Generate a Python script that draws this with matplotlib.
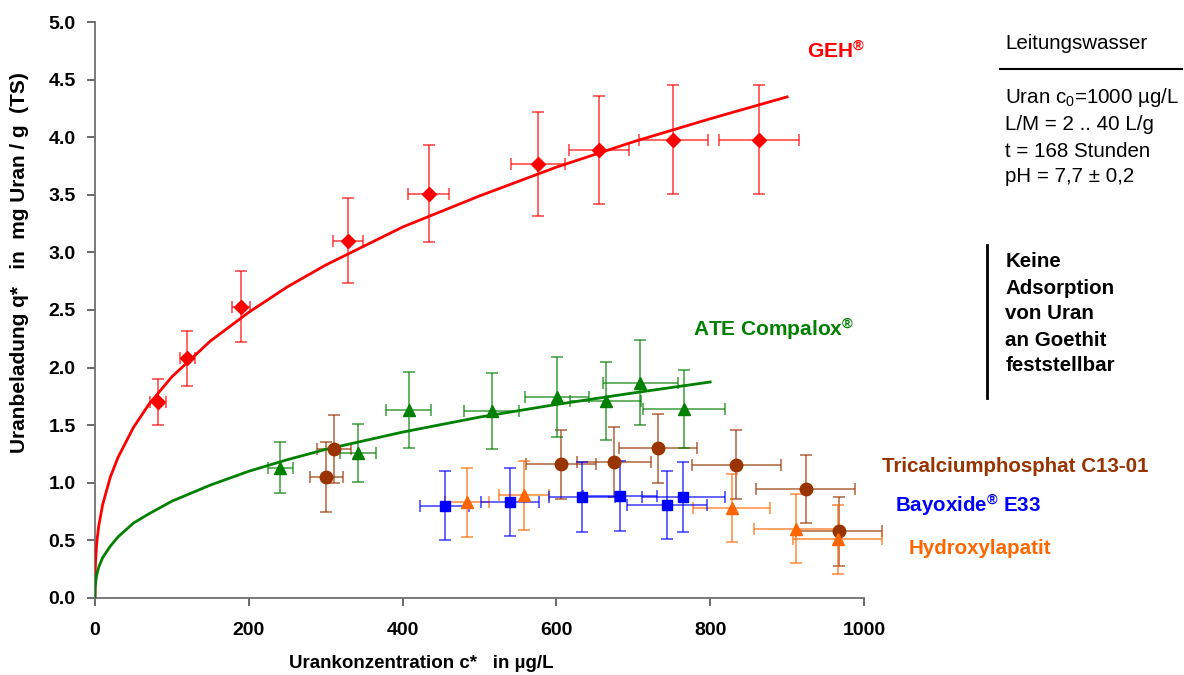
import matplotlib
matplotlib.use('Agg')
import matplotlib.pyplot as plt

plt.rcParams['font.family'] = ['Liberation Sans', 'DejaVu Sans']
plt.rcParams['mathtext.fontset'] = 'custom'
plt.rcParams['mathtext.rm'] = 'Liberation Sans'
plt.rcParams['mathtext.default'] = 'regular'

# GEH (red diamonds)
geh_c = [82, 120, 190, 329, 434, 576, 655, 752, 863]
geh_q = [1.70, 2.08, 2.53, 3.10, 3.51, 3.77, 3.89, 3.98, 3.98]
geh_cerr = [10, 10, 12, 20, 27, 35, 39, 45, 52]
geh_qerr = [0.20, 0.24, 0.31, 0.37, 0.42, 0.45, 0.47, 0.47, 0.47]
geh_fit_c = [0, 0.2, 0.5, 1, 2, 3, 5, 10, 20, 30, 50, 70, 100, 150, 200, 250,
             300, 400, 500, 600, 700, 800, 900]
geh_fit_q = [0, 0.19, 0.27, 0.34, 0.45, 0.52, 0.63, 0.81, 1.05, 1.22, 1.48, 1.68,
             1.92, 2.23, 2.48, 2.70, 2.89, 3.22, 3.49, 3.74, 3.96, 4.16, 4.35]

# ATE Compalox (green triangles)
ate_c = [241, 342, 408, 516, 601, 664, 709, 766]
ate_q = [1.13, 1.26, 1.63, 1.62, 1.745, 1.71, 1.87, 1.64]
ate_cerr = [16, 24, 29, 36, 42, 46, 49, 53]
ate_qerr = [0.22, 0.25, 0.33, 0.33, 0.35, 0.34, 0.37, 0.335]
ate_fit_c = [0, 0.2, 0.5, 1, 2, 3, 5, 10, 20, 30, 50, 70, 100, 150, 200, 250,
             300, 400, 500, 600, 700, 800]
ate_fit_q = [0, 0.08, 0.11, 0.14, 0.19, 0.22, 0.27, 0.35, 0.45, 0.53, 0.65, 0.73,
             0.84, 0.98, 1.10, 1.20, 1.29, 1.44, 1.57, 1.68, 1.78, 1.875]

# Tricalciumphosphat C13-01 (brown circles)
tcp_c = [301, 311, 606, 675, 732, 834, 924, 968]
tcp_q = [1.05, 1.29, 1.16, 1.18, 1.30, 1.155, 0.945, 0.58]
tcp_cerr = [21, 22, 45, 48, 51, 58, 64, 56]
tcp_qerr = [0.30, 0.295, 0.30, 0.30, 0.30, 0.30, 0.295, 0.30]

# Bayoxide E33 (blue squares)
bay_c = [455, 540, 633, 683, 744, 765]
bay_q = [0.80, 0.835, 0.877, 0.885, 0.81, 0.877]
bay_cerr = [32, 38, 43, 48, 52, 54]
bay_qerr = [0.30, 0.295, 0.30, 0.30, 0.295, 0.30]

# Hydroxylapatit (orange triangles)
hap_c = [484, 558, 828, 912, 966]
hap_q = [0.83, 0.89, 0.78, 0.60, 0.51]
hap_cerr = [29, 33, 50, 55, 58]
hap_qerr = [0.30, 0.30, 0.295, 0.30, 0.30]

red, green, brown, blue, orange = '#FF0000', '#008000', '#993300', '#0000FF', '#FF6600'

fig = plt.figure(figsize=(11.84, 6.75), dpi=100)
ax = fig.add_axes([0.0802, 0.1141, 0.6495, 0.8533])


def series(c, q, cerr, qerr, color, marker, ms):
    _, caps, bars = ax.errorbar(c, q, yerr=qerr, xerr=cerr, fmt='none',
                                ecolor=color, elinewidth=1.3, capsize=4,
                                capthick=1.3, alpha=0.65)
    for a in list(caps) + list(bars):
        a.set_clip_on(False)
    ax.plot(c, q, linestyle='', marker=marker, markersize=ms, color=color,
            zorder=4, clip_on=False)


ax.plot(geh_fit_c, geh_fit_q, color=red, lw=2, zorder=3)
ax.plot(ate_fit_c, ate_fit_q, color=green, lw=2, zorder=3)
series(tcp_c, tcp_q, tcp_cerr, tcp_qerr, brown, 'o', 9)
series(hap_c, hap_q, hap_cerr, hap_qerr, orange, '^', 9)
series(bay_c, bay_q, bay_cerr, bay_qerr, blue, 's', 6.5)
series(ate_c, ate_q, ate_cerr, ate_qerr, green, '^', 9)
series(geh_c, geh_q, geh_cerr, geh_qerr, red, 'D', 7)

ax.set_xlim(0, 1000)
ax.set_ylim(0, 5)
ax.set_xticks(range(0, 1001, 200))
ax.set_yticks([i * 0.5 for i in range(11)])
ax.set_yticklabels(['%.1f' % (i * 0.5) for i in range(11)])
for s in ['top', 'right']:
    ax.spines[s].set_visible(False)
for s in ['left', 'bottom']:
    ax.spines[s].set_color('#707070')
    ax.spines[s].set_linewidth(1.3)
ax.tick_params(direction='out', length=6, width=1.2, color='#505050',
               labelsize=14)
ax.tick_params(axis='x', pad=11)
ax.tick_params(axis='y', pad=8)
for lab in ax.get_xticklabels() + ax.get_yticklabels():
    lab.set_fontweight('bold')

ax.set_xlabel('Urankonzentration c*   in µg/L', fontsize=13.5, fontweight='bold')
ax.xaxis.set_label_coords(0.425, -0.099)
ax.set_ylabel('Uranbeladung q*   in  mg Uran / g  (TS)', fontsize=15,
              fontweight='bold')
ax.yaxis.set_label_coords(-0.086, 0.582)

# series labels
ax.text(964, 4.74, 'GEH$^{®}$', color=red, fontsize=15, fontweight='bold',
        ha='center', va='center')
ax.text(778, 2.33, 'ATE Compalox$^{®}$', color=green, fontsize=15,
        fontweight='bold', ha='left', va='center')
fig.text(0.745, 0.3096, 'Tricalciumphosphat C13-01', color=brown, fontsize=14.8,
         fontweight='bold', va='center')
fig.text(0.756, 0.2504, 'Bayoxide$^{®}$ E33', color=blue, fontsize=14.8,
         fontweight='bold', va='center')
fig.text(0.767, 0.188, 'Hydroxylapatit', color=orange, fontsize=14.8,
         fontweight='bold', va='center')

# conditions box
fig.text(0.849, 0.936, 'Leitungswasser', fontsize=14.8, va='center')
fig.add_artist(plt.Line2D([0.845, 0.998], [0.898, 0.898], color='black', lw=1.5))
cond = ['Uran c$_0$=1000 µg/L', 'L/M = 2 .. 40 L/g', 't = 168 Stunden',
        'pH = 7,7 ± 0,2']
for txt, y in zip(cond, [0.856, 0.816, 0.776, 0.739]):
    fig.text(0.849, y, txt, fontsize=14.8, va='center')

fig.add_artist(plt.Line2D([0.834, 0.834], [0.410, 0.637], color='black', lw=2))
note = ['Keine', 'Adsorption', 'von Uran', 'an Goethit', 'feststellbar']
for txt, y in zip(note, [0.612, 0.573, 0.535, 0.496, 0.458]):
    fig.text(0.849, y, txt, fontsize=14.8, fontweight='bold', va='center')

fig.savefig('out.png', dpi=100)
